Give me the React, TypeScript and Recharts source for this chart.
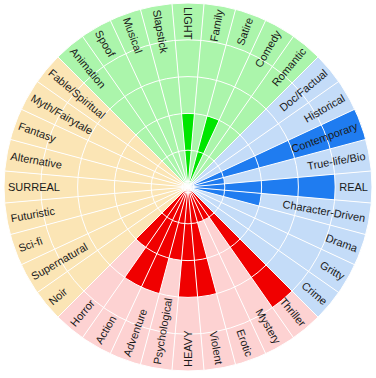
import React from 'react';
import { RadialBarChart, RadialBar, PolarAngleAxis, PolarRadiusAxis, PolarGrid, Cell } from 'recharts';

const categories = [
  'REAL', 'True-life/Bio', 'Contemporary', 'Historical', 'Doc/Factual',
  'Romantic', 'Comedy', 'Satire', 'Family', 'LIGHT', 'Slapstick', 'Musical', 'Spoof', 'Animation',
  'Fable/Spiritual', 'Myth/Fairytale', 'Fantasy', 'Alternative', 'SURREAL', 'Futuristic', 'Sci-fi', 'Supernatural', 'Noir',
  'Horror', 'Action', 'Adventure', 'Psychological', 'HEAVY', 'Violent', 'Erotic', 'Mystery', 'Thriller',
  'Crime', 'Gritty', 'Drama', 'Character-Driven',
];

const groups = [
  'real', 'real', 'real', 'real', 'real',
  'light', 'light', 'light', 'light', 'light', 'light', 'light', 'light', 'light',
  'surreal', 'surreal', 'surreal', 'surreal', 'surreal', 'surreal', 'surreal', 'surreal', 'surreal',
  'heavy', 'heavy', 'heavy', 'heavy', 'heavy', 'heavy', 'heavy', 'heavy', 'heavy',
  'real', 'real', 'real', 'real',
];

const scores = [
  4, 1, 5, 0, 0,
  0, 0, 2, 0, 2, 0, 0, 0, 0,
  0, 0, 0, 0, 0, 0, 0, 0, 0,
  2, 3, 3, 2, 3, 3, 1, 1, 4,
  0, 0, 0, 2,
];

const scaleTicks = [0, 1, 2, 3, 4, 5];
const scaleMax = 5;

const lightColors: Record<string, string> = {
  real: '#c4dcf8',
  light: '#abf5ab',
  surreal: '#fbe5b5',
  heavy: '#fdd2d2',
};
const darkColors: Record<string, string> = {
  real: '#1f7cf0',
  light: '#00e600',
  surreal: '#e0b050',
  heavy: '#f00000',
};

const data = categories.map((name, i) => ({ name, score: scores[i], full: scaleMax, group: groups[i] }));

const W = 376;
const H = 378;
const CX = 188;
const CY = 187;
const OUTER = 184;
const LABEL_R = 180;
const START = 5;
const END = 365;
const HALF_BAND = (END - START) / categories.length / 2;

const boundaryAngles = categories.map((_, i) => START + (i * (END - START)) / categories.length);

const LabelTick = (props: any) => {
  const { payload } = props;
  const angle = payload.coordinate + HALF_BAND;
  const rad = (angle * Math.PI) / 180;
  const x = CX + LABEL_R * Math.cos(rad);
  const y = CY - LABEL_R * Math.sin(rad);
  const norm = ((angle % 360) + 360) % 360;
  const left = norm > 89.5 && norm < 270.5;
  const rot = left ? 180 - angle : -angle;
  return (
    <text
      x={x}
      y={y}
      transform={`rotate(${rot} ${x} ${y})`}
      textAnchor={left ? 'start' : 'end'}
      dominantBaseline="central"
      fontSize={11}
      fill="#1a1a1a"
      fontFamily="'Liberation Sans', Arial, sans-serif"
    >
      {payload.value}
    </text>
  );
};

const common = {
  width: W,
  height: H,
  cx: CX,
  cy: CY,
  innerRadius: 0,
  outerRadius: OUTER,
  startAngle: START,
  endAngle: END,
  data,
  layout: 'centric' as const,
  barCategoryGap: 0,
  barGap: 0,
  margin: { top: 0, right: 0, bottom: 0, left: 0 },
};

const layer: React.CSSProperties = { position: 'absolute', left: 0, top: 0, width: W, height: H };

export default function App() {
  return (
    <div style={{ position: 'absolute', left: 0, top: 0, width: W, height: H, background: '#fff' }}>
      <div style={layer}>
        <RadialBarChart {...common}>
          <PolarAngleAxis type="category" dataKey="name" tick={false} tickLine={false} axisLine={false} />
          <PolarRadiusAxis type="number" domain={[0, scaleMax]} ticks={scaleTicks} tick={false} axisLine={false} />
          <RadialBar dataKey="full" isAnimationActive={false}>
            {data.map((d, i) => (
              <Cell key={i} fill={lightColors[d.group]} />
            ))}
          </RadialBar>
        </RadialBarChart>
      </div>
      <div style={layer}>
        <RadialBarChart {...common}>
          <PolarAngleAxis type="category" dataKey="name" tick={false} tickLine={false} axisLine={false} />
          <PolarRadiusAxis type="number" domain={[0, scaleMax]} ticks={scaleTicks} tick={false} axisLine={false} />
          <RadialBar dataKey="score" isAnimationActive={false}>
            {data.map((d, i) => (
              <Cell key={i} fill={darkColors[d.group]} />
            ))}
          </RadialBar>
        </RadialBarChart>
      </div>
      <div style={layer}>
        <RadialBarChart {...common}>
          <PolarGrid gridType="circle" stroke="#ffffff" strokeWidth={1} polarAngles={boundaryAngles} />
          <PolarAngleAxis type="category" dataKey="name" tick={<LabelTick />} tickLine={false} axisLine={false} />
          <PolarRadiusAxis type="number" domain={[0, scaleMax]} ticks={scaleTicks} tick={false} axisLine={false} />
          <RadialBar dataKey="score" fill="transparent" fillOpacity={0} isAnimationActive={false} />
        </RadialBarChart>
      </div>
    </div>
  );
}
